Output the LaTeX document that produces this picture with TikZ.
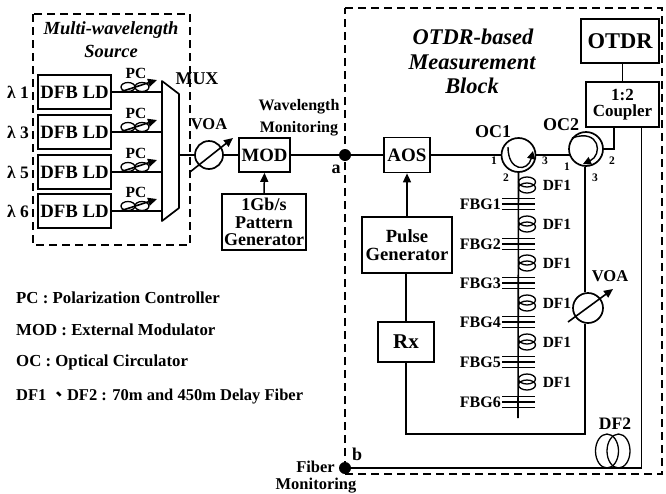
\documentclass[tikz,border=0pt]{standalone}
\usepackage{fontspec}
\setmainfont{Liberation Serif}
\newfontfamily\cjk{Noto Sans CJK TC}
\usetikzlibrary{arrows.meta,calc}
\newcommand{\fsz}[1]{\fontsize{#1}{#1}\selectfont\bfseries}
\newcommand{\fszi}[1]{\fontsize{#1}{#1}\selectfont\bfseries\itshape}
\tikzset{
 fib/.style={line width=1.5pt},
 boxn/.style={draw,line width=1.7pt,inner sep=0pt,align=center,anchor=center},
 ring/.style={draw,circle,line width=1.7pt,inner sep=0pt},
 lab/.style={inner sep=0pt,align=center},
 dashbox/.style={line width=1.5pt,dash pattern=on 8pt off 5pt},
 tip/.style={-{Triangle[length=9pt,width=8pt]}},
 coil/.style={line width=1.3pt},
 grat/.style={line width=1.5pt},
}
\newcommand{\pcoil}[3]{%
 \draw[coil] (#1-7,#2) ellipse[x radius=7,y radius=4.5];
 \draw[coil] (#1+7,#2) ellipse[x radius=7,y radius=4.5];
 \draw[line width=1.6pt,tip] (#1-15,#2+5) -- (#1+22,#2-7);
 \node[lab,font=\fsz{15.5}] at (#1+1,#3) {PC};}
\newcommand{\dfcoil}[1]{%
 \draw[coil] (527,#1-3) ellipse[x radius=8.5,y radius=5];
 \draw[coil] (527,#1+3) ellipse[x radius=8.5,y radius=5];
 \node[lab,font=\fsz{15.5}] at (557,#1) {DF1};}
\newcommand{\fbg}[2]{%
 \draw[grat] (502,#1-5.5) -- (535,#1-5.5) (502,#1) -- (535,#1) (502,#1+5.5) -- (535,#1+5.5);
 \node[lab,font=\fsz{16},anchor=east] at (501,#1) {#2};}
\begin{document}
\begin{tikzpicture}[x=1pt,y=-1pt]
\useasboundingbox (0,0) rectangle (666,493);
% dashed blocks
\draw[dashbox] (33,14) rectangle (190,245);
\draw[dashbox] (345,8) -- (662,8) -- (662,474) -- (345,474) -- cycle;
% source block
\node[lab,font=\fszi{18.5}] at (111,30) {Multi-wavelength};
\node[lab,font=\fszi{18.5}] at (111,51) {Source};
\foreach \n/\y/\l in {1/92/1,2/132/3,3/172/5,4/211/6}{
 \node[boxn,minimum width=73pt,minimum height=34pt,font=\fsz{18.8}] (dfb\n) at (74.5,\y) {DFB LD};
 \node[lab,font=\fsz{17.5}] (lam\n) at (18,\y) {λ \l};
}
\coordinate (muxa) at (162,81);
\coordinate (muxb) at (179,94);
\coordinate (muxc) at (179,208);
\coordinate (muxd) at (162,221);
\draw[line width=1.7pt,line join=round] (muxa) -- (muxb) -- (muxc) -- (muxd) -- cycle;
\foreach \n in {1,2,3,4}{\draw[fib] (dfb\n.east) -- (dfb\n.east -| muxa);}
\pcoil{135}{87}{73}
\pcoil{135}{127}{113}
\pcoil{135}{167}{153}
\pcoil{135}{206}{192}
\node[lab,font=\fsz{18}] at (197,79) {MUX};
% main line
\node[ring,minimum size=28pt] (voaa) at (209,155) {};
\node[boxn,minimum width=51pt,minimum height=34pt,font=\fsz{18.8}] (mod) at (264.5,155) {MOD};
\node[boxn,minimum width=84pt,minimum height=56pt,font=\fsz{18}] (pat) at (264,222) {1Gb/s\\[0pt]Pattern\\[-1pt]Generator};
\node[circle,fill,inner sep=0pt,minimum size=12pt] (a) at (345,155) {};
\node[boxn,minimum width=46pt,minimum height=35pt,font=\fsz{19}] (aos) at (407,155) {AOS};
\node[ring,minimum size=34pt] (oca) at (518.5,155) {};
\node[ring,minimum size=34pt] (ocb) at (586,149) {};
\draw[fib] (muxb |- voaa) -- (voaa) (voaa) -- (mod);
\draw[fib] (mod) -- (a) -- (aos) -- (oca);
\coordinate (ocbl) at (569.5,155);
\draw[fib] (oca.east) -- (ocbl);
\draw[line width=1.6pt,tip] (190,172) -- (233,138);
\node[lab,font=\fsz{16.5}] at (209,124) {VOA};
\node[lab,font=\fsz{16}] at (299,107) {Wavelength};
\node[lab,font=\fsz{16}] at (299,129) {Monitoring};
\node[lab,font=\fsz{18}] at (336,169) {a};
\draw[line width=1.5pt,tip] (pat.north) -- (mod.south);
% measurement block
\node[lab,font=\fszi{22.4}] at (473,37) {OTDR-based};
\node[lab,font=\fszi{22.4}] at (472,62) {Measurement};
\node[lab,font=\fszi{22.4}] at (472,86) {Block};
\node[boxn,minimum width=78pt,minimum height=44pt,font=\fsz{22.5}] (otdr) at (620,41) {OTDR};
\node[boxn,minimum width=73pt,minimum height=45pt,font=\fsz{17}] (coup) at (622.5,104.5) {1:2\\[-1pt]Coupler};
\draw[fib] (otdr.south -| coup) -- (coup.north);
\coordinate (cpb) at (614,127);
\coordinate (cpc) at (641.5,127);
\draw[fib] (ocb.east) -- (cpb |- ocb.east) -- (cpb);
\node[boxn,minimum width=90pt,minimum height=56pt,font=\fsz{18.6}] (pg) at (407,245) {Pulse\\[0pt]Generator};
\node[boxn,minimum width=56pt,minimum height=40pt,font=\fsz{21}] (rx) at (406,342) {Rx};
\draw[line width=1.5pt,tip] (pg.north -| aos) -- (aos.south);
\draw[fib] (rx.north) -- (rx.north |- pg.south);
\node[lab,font=\fsz{18}] at (493,132) {OC1};
\node[lab,font=\fsz{18}] at (561,125) {OC2};
\foreach \x/\y/\t in {494/161/1,545/161/3,506/178/2,567/167/1,612/161/2,595/178/3}{
 \node[lab,font=\fsz{11.5}] at (\x,\y) {\t};}
\draw[line width=1.4pt,-{Triangle[length=8pt,width=8pt]}] (508,147) .. controls (508,172) and (528,172) .. (533,151);
\draw[line width=1.4pt,-{Triangle[length=8pt,width=8pt]}] (572,138) .. controls (600,128) and (603,155) .. (583,164);
\coordinate (fe) at (518,418);
\draw[line width=1.6pt] (oca.south) -- (fe);
\foreach \y/\t in {204/FBG1,244/FBG2,283/FBG3,322/FBG4,362/FBG5,402/FBG6}{\fbg{\y}{\t}}
\dfcoil{185}\dfcoil{224}\dfcoil{263}\dfcoil{303}\dfcoil{342}\dfcoil{382}
% return path
\node[ring,minimum size=30pt] (voab) at (588,308) {};
\coordinate (rc) at (585,434);
\draw[fib] (ocb.south -| rc) -- (voab.north -| rc);
\draw[fib] (voab.south -| rc) -- (rc) -- (rc -| rx) -- (rx.south);
\draw[line width=1.6pt,tip] (568,322) -- (613,289);
\node[lab,font=\fsz{16.5}] at (610,276) {VOA};
% fibre monitoring path
\node[circle,fill,inner sep=0pt,minimum size=12pt] (b) at (345,468) {};
\draw[fib] (b) -- (641.5,468) -- (cpc);
\draw[coil] (607,451) ellipse[x radius=11.5,y radius=17];
\draw[coil] (618.5,451) ellipse[x radius=11.5,y radius=17];
\node[lab,font=\fsz{17.5}] at (615,424) {DF2};
\node[lab,font=\fsz{18}] at (357,454) {b};
\node[lab,font=\fsz{16.5},anchor=east] at (335,467) {Fiber};
\node[lab,font=\fsz{16.5}] at (316,486) {Monitoring};
% legend
\node[lab,font=\fsz{16.8},anchor=west] at (16,298) {PC : Polarization Controller};
\node[lab,font=\fsz{16.8},anchor=west] at (16,330) {MOD : External Modulator};
\node[lab,font=\fsz{16.8},anchor=west] at (16,362) {OC : Optical Circulator};
\node[lab,font=\fsz{16.5},anchor=west] at (16,397) {DF1 {\cjk 、}DF2 : 70m and 450m Delay Fiber};
\end{tikzpicture}
\end{document}
